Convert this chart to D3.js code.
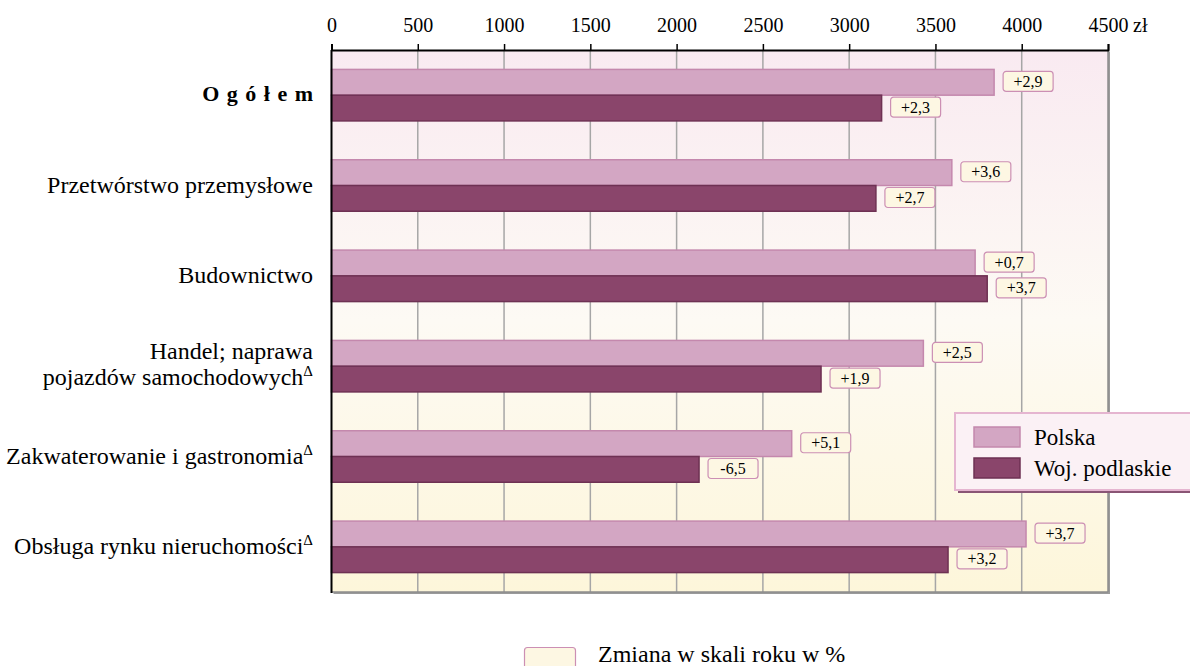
<!DOCTYPE html>
<html>
<head>
<meta charset="utf-8" />
<title>Przeciętne wynagrodzenie</title>
<style>
body { margin: 0; background: #fff; }
#graph { width: 1190px; height: 666px; }
text { font-family: "Liberation Serif", "Times New Roman", serif; fill: #000; }
</style>
</head>
<body>
<div id="graph"></div>
<script src="https://d3js.org/d3.v7.min.js"></script>
<script>
var categories = ["Ogółem", "Przetwórstwo przemysłowe", "Budownictwo",
    "Handel; naprawa pojazdów samochodowych", "Zakwaterowanie i gastronomia", "Obsługa rynku nieruchomości"];
var polska = [3840, 3595, 3730, 3430, 2667, 4025];
var podlaskie = [3188, 3155, 3800, 2837, 2130, 3573];
var changePolska = ["+2,9", "+3,6", "+0,7", "+2,5", "+5,1", "+3,7"];
var changePodlaskie = ["+2,3", "+2,7", "+3,7", "+1,9", "-6,5", "+3,2"];
var xTicks = [0, 500, 1000, 1500, 2000, 2500, 3000, 3500, 4000, 4500];

!(function(){
    "use strict"
    var width = 1190, height = 666;
    var margin = {top: 50, left: 331.5, right: 82, bottom: 74};
    var chartWidth = width - margin.left - margin.right;
    var chartHeight = height - margin.top - margin.bottom;

    var svg = d3.select("#graph").append("svg").attr("width", width).attr("height", height);
    var defs = svg.append("defs");
    var grad = defs.append("linearGradient").attr("id", "bg").attr("x1", 0).attr("y1", 0).attr("x2", 0).attr("y2", 1);
    grad.append("stop").attr("offset", "0%").attr("stop-color", "#f9eaf1");
    grad.append("stop").attr("offset", "50%").attr("stop-color", "#fdfaf4");
    grad.append("stop").attr("offset", "100%").attr("stop-color", "#fdf6da");

    var xScale = d3.scaleLinear().domain([0, 4500]).range([0, chartWidth]);
    var yScale = d3.scaleBand().domain(categories).range([0, chartHeight]).paddingInner(0.43).paddingOuter(0.215);
    var sub = d3.scaleBand().domain(["p", "w"]).range([0, yScale.bandwidth()]);

    var chart = svg.append("g").attr("transform", "translate(" + [margin.left, margin.top] + ")");

    // shadow of plot border
    chart.append("rect").attr("x", 2).attr("y", 2).attr("width", chartWidth).attr("height", chartHeight)
        .attr("fill", "#9a9a9a");
    chart.append("rect").attr("width", chartWidth).attr("height", chartHeight).attr("fill", "url(#bg)");

    // grid
    chart.append("g").selectAll("line").data(xTicks.slice(1, -1)).enter().append("line")
        .attr("x1", function(d){ return xScale(d) }).attr("x2", function(d){ return xScale(d) })
        .attr("y1", 0).attr("y2", chartHeight)
        .attr("stroke", "#a6a6a6").attr("stroke-width", 1.5);

    // right and bottom border
    chart.append("line").attr("x1", chartWidth).attr("x2", chartWidth).attr("y1", 0).attr("y2", chartHeight)
        .attr("stroke", "#8c8c8c").attr("stroke-width", 1.5);
    chart.append("line").attr("x1", 0).attr("x2", chartWidth).attr("y1", chartHeight).attr("y2", chartHeight)
        .attr("stroke", "#8c8c8c").attr("stroke-width", 1.5);

    // bars
    var rows = chart.append("g").selectAll("g").data(categories).enter().append("g")
        .attr("transform", function(d){ return "translate(0," + yScale(d) + ")" });

    rows.append("rect")
        .attr("x", 0).attr("y", sub("p"))
        .attr("width", function(d, i){ return xScale(polska[i]) })
        .attr("height", sub.bandwidth())
        .attr("fill", "#d3a6c3").attr("stroke", "#c488ad").attr("stroke-width", 1.5);
    rows.append("rect")
        .attr("x", 0).attr("y", sub("w"))
        .attr("width", function(d, i){ return xScale(podlaskie[i]) })
        .attr("height", sub.bandwidth())
        .attr("fill", "#8a456b").attr("stroke", "#6e3153").attr("stroke-width", 1.5);

    // change labels
    function changeBox(sel, vals, key, texts) {
        var g = sel.append("g").attr("transform", function(d, i){
            return "translate(" + [xScale(vals[i]) + 9, sub(key) + 2] + ")" });
        g.append("rect").attr("width", 50).attr("height", 20).attr("rx", 3)
            .attr("fill", "#fdf7e3").attr("stroke", "#cc8fb4").attr("stroke-width", 1.2);
        g.append("text").attr("x", 25).attr("y", 15.5).attr("text-anchor", "middle")
            .style("font-size", "16px").text(function(d, i){ return texts[i] });
    }
    changeBox(rows, polska, "p", changePolska);
    changeBox(rows, podlaskie, "w", changePodlaskie);

    // top axis
    var xAxis = d3.axisTop(xScale).tickValues(xTicks).tickSize(6).tickSizeOuter(6).tickPadding(12)
        .tickFormat(function(d){ return d });
    var ax = chart.append("g").call(xAxis);
    ax.select(".domain").attr("stroke", "#000").attr("stroke-width", 2);
    ax.selectAll(".tick line").attr("stroke", "#000").attr("stroke-width", 1.5);
    ax.selectAll(".tick text").style("font-size", "20px").style("font-family", "Liberation Serif");
    chart.append("text").attr("x", chartWidth + 25).attr("y", -18).style("font-size", "20px").text("zł");

    // left axis line
    chart.append("line").attr("x1", 0).attr("x2", 0).attr("y1", 0).attr("y2", chartHeight + 1)
        .attr("stroke", "#000").attr("stroke-width", 2);

    // category labels
    var labelX = -18.5;
    var labels = chart.append("g").selectAll("text").data(categories).enter().append("text")
        .attr("text-anchor", "end").attr("x", labelX)
        .attr("y", function(d){ return yScale(d) + yScale.bandwidth() / 2 + 7 })
        .style("font-size", "24px");
    labels.each(function(d, i){
        var t = d3.select(this);
        if (i === 0) {
            t.style("font-weight", "bold").style("font-size", "22px").style("letter-spacing", "7.5px")
                .attr("dx", 7.5).attr("dy", -1).text(d);
        } else if (i === 3) {
            t.attr("dy", -14);
            t.append("tspan").attr("x", labelX).text("Handel; naprawa");
            t.append("tspan").attr("x", labelX).attr("dy", 26).text("pojazdów samochodowych")
                .append("tspan").attr("dy", -9).style("font-size", "15px").text("Δ");
        } else if (i >= 4) {
            t.text(d).append("tspan").attr("dy", -9).style("font-size", "15px").text("Δ");
        } else {
            t.text(d);
        }
    });
    labels.filter(function(d, i){ return i >= 4 }).attr("dy", 0);

    // legend
    var lg = svg.append("g").attr("transform", "translate(955,413)");
    lg.append("rect").attr("x", 3).attr("y", 3).attr("width", 250).attr("height", 77).attr("fill", "#8a5575");
    lg.append("rect").attr("width", 250).attr("height", 77).attr("fill", "#fbf1f5")
        .attr("stroke", "#e5b5d0").attr("stroke-width", 2);
    var items = [["Polska", "#d3a6c3", "#c488ad"], ["Woj. podlaskie", "#8a456b", "#6e3153"]];
    items.forEach(function(it, i){
        lg.append("rect").attr("x", 19).attr("y", 14 + i * 31).attr("width", 46).attr("height", 20)
            .attr("fill", it[1]).attr("stroke", it[2]).attr("stroke-width", 1.5);
        lg.append("text").attr("x", 79).attr("y", 32 + i * 31).style("font-size", "23px").text(it[0]);
    });

    // bottom legend
    svg.append("rect").attr("x", 524.5).attr("y", 647.5).attr("width", 51).attr("height", 25).attr("rx", 3)
        .attr("fill", "#fdf7e3").attr("stroke", "#cc8fb4").attr("stroke-width", 1.2);
    svg.append("text").attr("x", 598).attr("y", 662).style("font-size", "24px").text("Zmiana w skali roku w %");
}());
</script>
</body>
</html>
